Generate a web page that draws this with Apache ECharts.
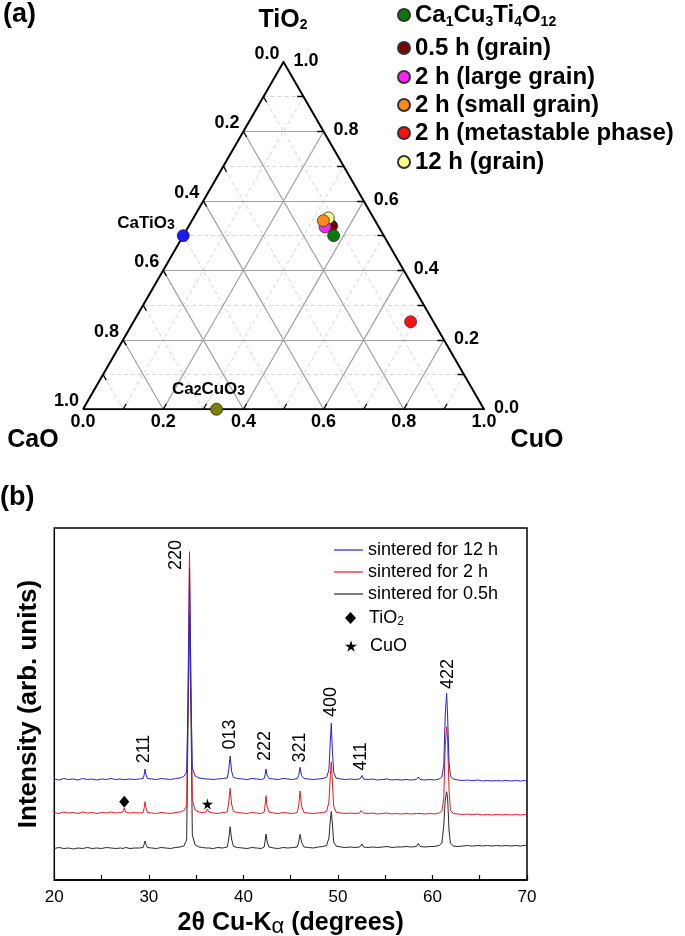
<!DOCTYPE html>
<html><head><meta charset="utf-8">
<script src="https://cdn.jsdelivr.net/npm/echarts@6/dist/echarts.min.js"></script>
<style>html,body{margin:0;padding:0;background:#fff}#c{width:685px;height:936px}</style>
</head><body><div id="c"></div>
<script>
// ===== (a) ternary data: molar fractions =====
const sampleNames = ['Ca1Cu3Ti4O12', '0.5 h (grain)', '2 h (large grain)', '2 h (small grain)', '2 h (metastable phase)', '12 h (grain)'];
const sampleCaO  = [0.125, 0.116, 0.134, 0.129, 0.057, 0.113];
const sampleCuO  = [0.375, 0.356, 0.341, 0.328, 0.691, 0.336];
const sampleTiO2 = [0.500, 0.528, 0.525, 0.543, 0.252, 0.551];
const refNames = ['CaTiO3', 'Ca2CuO3'];
const refCaO  = [0.5, 0.667];
const refCuO  = [0.0, 0.333];
const refTiO2 = [0.5, 0.0];
const ternLabelValues = [0.0, 0.2, 0.4, 0.6, 0.8, 1.0];
const ternMajor = [0.2, 0.4, 0.6, 0.8];
const ternMinor = [0.1, 0.3, 0.5, 0.7, 0.9];

// ===== (b) XRD data =====
const twoTheta = [20.0,20.5,21.0,21.5,22.0,22.5,23.0,23.5,24.0,24.5,
 25.0,25.5,26.0,26.5,27.0,27.25,27.4,27.55,28.0,28.5,
 29.0,29.4,29.5,29.6,29.7,29.85,30.3,30.8,31.3,31.8,
 32.3,32.8,33.3,33.7,34.0,34.15,34.3,34.45,34.6,34.9,
 35.3,35.7,36.05,36.2,36.35,36.8,37.3,37.8,38.3,38.45,
 38.6,38.75,38.95,39.4,39.9,40.4,40.9,41.4,41.9,42.2,
 42.3,42.4,42.5,42.7,43.2,43.7,44.2,44.7,45.2,45.7,
 45.85,46.0,46.15,46.4,46.9,47.4,47.9,48.4,48.8,49.05,
 49.2,49.3,49.4,49.55,49.8,50.3,50.8,51.3,51.8,52.3,
 52.45,52.55,52.7,53.2,53.7,54.2,54.7,55.2,55.7,56.2,
 56.7,57.2,57.7,58.3,58.5,58.7,59.2,59.7,60.2,60.7,
 61.0,61.2,61.35,61.5,61.6,61.75,61.9,62.2,62.7,63.2,
 63.7,64.05,64.2,64.35,64.8,65.3,65.8,66.3,66.8,67.3,
 67.8,68.3,68.8,69.3,69.7,70.0];
const int12h = [101,100,101.5,100.5,101,100,101.5,100.5,101,100,
 101,100.5,101.5,100.5,101,100.5,101,100.5,101,100.5,
 101,101.5,105,111,105,101.5,101,100.5,101.5,101,
 100.5,101.5,102,103.5,108,180,312,190,112,104,
 102,101.5,101,101.5,101,100.5,101,101.5,102,110,
 124,109,102.5,101.5,101,100.5,101.5,101,100.5,101.5,
 105,111,105,101.5,101,100.5,101.5,101,100.5,101.5,
 104.5,112.7,104.5,101.5,101,100.5,101,101.5,102.5,110,
 140,156.7,132,108,102,101,100.5,101,100.5,101,
 103,104.5,101,100.5,101,100,100.5,101,100,100.5,
 100,100.5,100,100.5,103,100.5,100,100.5,100,101,
 103,115,165,186.7,165,118,104,101,100,99.5,
 100,99.5,100.5,99.5,100,99,99.5,99,99.5,99,
 99.5,99,99.5,99,99.5,99];
const int2h = [67.5,66.5,68,67,67.5,66.5,68,67,67.5,66.5,
 67.5,67,68,67,67.5,68,72,68,67,67.5,
 67,67.5,72,78.3,72,67.5,67,66.5,67.5,67,
 66.5,67.5,68,69.5,74,190,328.3,200,80,70,
 68,67.5,68,71,68,67,66.5,67.5,68,78,
 91.7,76,68.5,67.5,67,66.5,67.5,67,66.5,68,
 75,84.3,74,68,67,66.5,67.5,67,66.5,67.5,
 74,89,74,67.5,67,66.5,67,67.5,68.5,78,
 105,118,100,74,68,67,66.5,67,66.5,67,
 69.5,70.5,67,66.5,67,66,66.5,67,66,66.5,
 66,66.5,66,66.5,68.5,66.5,66,66.5,66,67,
 69,82,135,153.3,140,90,70,66.5,66,65.5,
 66,65.5,67.5,65.5,66,65,65.5,65,65.5,65,
 65.5,65,65.5,65,65.5,65];
const int05h = [31.5,32.5,31.5,32,31,32,31.5,32.5,31.5,32,
 31.5,32.5,32,31.5,32,31.5,32,32.5,31.5,32,
 32,32.5,35.5,39,35.5,32.5,32,31.5,32.5,32,
 31.5,32.5,33,34,40,160,265,170,45,35,
 33,32.5,32,32.5,32,31.5,32.5,32,33,41,
 53.3,41,33.5,32.5,32,31.5,32.5,32,31.5,33,
 39,46,39,33,32,31.5,32.5,32,32.5,33,
 38,45.7,38,33,32.5,32,33,33.5,34.5,42,
 60,68.3,58,38,34,33,32.5,33,32.5,33,
 35,36,33,32.5,33,32.5,33,33.5,32.5,33,
 33,33.5,33,33.5,36.5,33.5,33,33.5,33.5,34.5,
 37,55,80,88.3,82,50,37,34,33.5,34,
 34.5,34,35.5,34,34.5,34,34.5,34,34.5,34,
 34.5,34,34.5,34,34.5,34.3];
const hklLabels = ['211','220','013','222','321','400','411','422'];
const hklTheta = [29.47, 32.85, 38.59, 42.25, 45.95, 49.26, 52.49, 61.6];
const hklIntensity = [131, 325, 145.5, 134, 132.5, 178, 123.5, 206];
const tio2Theta = [27.4], tio2Int = [78.3];
const cuoTheta = [36.2], cuoInt = [76];
const xrdSeriesNames = ['sintered for 12 h', 'sintered for 2 h', 'sintered for 0.5h'];

// ===== styles =====
const FONT = 'Arial, "Liberation Sans", Helvetica, sans-serif';
const sampleColors = ['#0b7a0b', '#7a0000', '#ff22ff', '#ff8a1a', '#ff1010', '#ffff8c'];
const sampleZ = [9, 5, 6, 8, 5, 7];
const refColors = ['#1a1aff', '#808000'];
const STAR = 'path://M50,0 L61,35 L98,35 L68,57 L79,91 L50,70 L21,91 L32,57 L2,35 L39,35 Z';

const SQ = Math.sqrt(3) / 2;
function tp(caO, cuO, tiO2) { const s = caO + cuO + tiO2; return [(cuO + tiO2 / 2) / s, (tiO2 * SQ) / s]; }
function gridSegs(vals) {
  const segs = [];
  vals.forEach(v => {
    segs.push({ coords: [tp(1 - v, 0, v), tp(0, 1 - v, v)] });
    segs.push({ coords: [tp(1 - v, v, 0), tp(0, v, 1 - v)] });
    segs.push({ coords: [tp(v, 1 - v, 0), tp(v, 0, 1 - v)] });
  });
  return segs;
}
const TL = 0.016;
const tickSegs = [];
ternMinor.concat(ternMajor).forEach(v => {
  tickSegs.push({ coords: [tp(1 - v, v, 0), tp(1 - v - TL, v, TL)] });
  tickSegs.push({ coords: [tp(0, 1 - v, v), tp(TL, 1 - v - TL, v)] });
  tickSegs.push({ coords: [tp(v, 0, 1 - v), tp(v, TL, 1 - v - TL)] });
});
const subRich = { s: { fontSize: 14, fontWeight: 'bold', color: '#000', verticalAlign: 'bottom', lineHeight: 14, fontFamily: FONT } };
function chemRich(n) {
  const map = { 'Ca1Cu3Ti4O12': 'Ca{s|1}Cu{s|3}Ti{s|4}O{s|12}', 'CaTiO3': 'CaTiO{s|3}', 'Ca2CuO3': 'Ca{s|2}CuO{s|3}' };
  return map[n] || n;
}

const series = [];
series.push({ type: 'lines', coordinateSystem: 'cartesian2d', xAxisIndex: 0, yAxisIndex: 0, silent: true, z: 1,
  lineStyle: { color: '#d4d4d4', width: 1, type: [4, 3], opacity: 1 }, data: gridSegs(ternMinor) });
series.push({ type: 'lines', coordinateSystem: 'cartesian2d', xAxisIndex: 0, yAxisIndex: 0, silent: true, z: 2,
  lineStyle: { color: '#a0a0a0', width: 1.2, opacity: 1 }, data: gridSegs(ternMajor) });
series.push({ type: 'lines', coordinateSystem: 'cartesian2d', xAxisIndex: 0, yAxisIndex: 0, silent: true, z: 3,
  lineStyle: { color: '#000', width: 1.3, opacity: 1 }, data: tickSegs });
series.push({ type: 'lines', coordinateSystem: 'cartesian2d', xAxisIndex: 0, yAxisIndex: 0, silent: true, z: 4, polyline: true,
  lineStyle: { color: '#000', width: 2, opacity: 1 }, data: [{ coords: [tp(1, 0, 0), tp(0, 1, 0), tp(0, 0, 1), tp(1, 0, 0)] }] });
// left edge labels (CaO)
series.push({ type: 'scatter', xAxisIndex: 0, yAxisIndex: 0, symbolSize: 0, silent: true, z: 4, itemStyle: { opacity: 1 },
  data: ternLabelValues.map(v => ({ value: tp(v, 0, 1 - v), name: v.toFixed(1) })),
  label: { show: true, formatter: '{b}', position: 'left', distance: 4, offset: [0, -8], fontSize: 18, fontWeight: 'bold', color: '#000', opacity: 1, fontFamily: FONT } });
// right edge labels (TiO2)
series.push({ type: 'scatter', xAxisIndex: 0, yAxisIndex: 0, symbolSize: 0, silent: true, z: 4, itemStyle: { opacity: 1 },
  data: ternLabelValues.map(v => ({ value: tp(0, 1 - v, v), name: v.toFixed(1) })),
  label: { show: true, formatter: '{b}', position: 'right', distance: 10, offset: [0, -1], fontSize: 18, fontWeight: 'bold', color: '#000', opacity: 1, fontFamily: FONT } });
// reference compounds
const refLabelPos = [{ position: 'left', distance: 2, offset: [0, -12] }, { position: 'top', distance: 5, offset: [-8, 0] }];
refNames.forEach((n, i) => {
  series.push({ type: 'scatter', name: n, xAxisIndex: 0, yAxisIndex: 0, symbol: 'circle', symbolSize: 12, z: 6,
    itemStyle: { color: refColors[i], borderColor: '#222', borderWidth: 0.8, opacity: 1 },
    data: [{ value: tp(refCaO[i], refCuO[i], refTiO2[i]), name: n }],
    label: Object.assign({ show: true, formatter: chemRich(n), fontSize: 17, fontWeight: 'bold', color: '#000', fontFamily: FONT, rich: subRich }, refLabelPos[i]) });
});
sampleNames.forEach((n, i) => {
  series.push({ type: 'scatter', name: n, xAxisIndex: 0, yAxisIndex: 0, symbol: 'circle', symbolSize: 12, z: sampleZ[i],
    itemStyle: { color: sampleColors[i], borderColor: '#333', borderWidth: 0.8, opacity: 1 },
    data: [tp(sampleCaO[i], sampleCuO[i], sampleTiO2[i])] });
});
// XRD traces (drawn black, red, blue so blue is on top)
const xrdInts = [int12h, int2h, int05h];
const xrdColors = ['#2424dc', '#e81c1c', '#2a2a2a'];
[2, 1, 0].forEach(k => {
  series.push({ type: 'line', name: xrdSeriesNames[k], xAxisIndex: 1, yAxisIndex: 1, symbol: 'none', showSymbol: false,
    color: xrdColors[k], lineStyle: { color: xrdColors[k], width: 1 }, z: 3 + (2 - k),
    data: twoTheta.map((x, j) => [x, xrdInts[k][j]]) });
});
series.push({ type: 'scatter', name: 'TiO2', xAxisIndex: 1, yAxisIndex: 1, symbol: 'diamond', symbolSize: [10, 12], z: 8,
  itemStyle: { color: '#000', opacity: 1 }, data: tio2Theta.map((x, j) => [x, tio2Int[j]]) });
series.push({ type: 'scatter', name: 'CuO', xAxisIndex: 1, yAxisIndex: 1, symbol: STAR, symbolSize: 11, z: 8,
  itemStyle: { color: '#000', opacity: 1 }, data: cuoTheta.map((x, j) => [x, cuoInt[j]]) });
series.push({ type: 'scatter', name: 'hkl', xAxisIndex: 1, yAxisIndex: 1, symbolSize: 0, silent: true, z: 9, itemStyle: { opacity: 1 },
  data: hklTheta.map((x, j) => ({ value: [x, hklIntensity[j]], name: hklLabels[j] })),
  label: { show: true, formatter: '{b}', position: 'inside', rotate: 90, fontSize: 18, color: '#000', opacity: 1, fontFamily: FONT } });

// legends
const legends = [];
const legARows = [15, 48, 77, 105, 133, 162];
sampleNames.forEach((n, i) => {
  legends.push({ data: [n], left: 397, top: legARows[i] - 14, padding: 0, icon: 'circle', itemWidth: 12, itemHeight: 12,
    selectedMode: false, formatter: chemRich,
    textStyle: { fontSize: 24, fontWeight: 'bold', color: '#000', lineHeight: 28, fontFamily: FONT, rich: subRich } });
});
const legBRows = [550, 572, 594, 618, 646];
xrdSeriesNames.forEach((n, i) => {
  legends.push({ data: [n], left: 334, top: legBRows[i] - 10, padding: 0, icon: 'rect', itemWidth: 29, itemHeight: 1.2,
    selectedMode: false, textStyle: { fontSize: 18, color: '#000', lineHeight: 20, fontFamily: FONT } });
});
const xrdSub = { s: { fontSize: 12, color: '#000', verticalAlign: 'bottom', lineHeight: 10, fontFamily: FONT } };
legends.push({ data: ['TiO2'], left: 345, top: legBRows[3] - 10, padding: 0, itemWidth: 11, itemHeight: 12, selectedMode: false,
  formatter: () => 'TiO{s|2}', textStyle: { fontSize: 18, color: '#000', lineHeight: 20, fontFamily: FONT, padding: [0, 0, 0, 8], rich: xrdSub } });
legends.push({ data: ['CuO'], left: 345, top: legBRows[4] - 10, padding: 0, itemWidth: 12, itemHeight: 12, selectedMode: false,
  textStyle: { fontSize: 18, color: '#000', lineHeight: 20, fontFamily: FONT, padding: [0, 0, 0, 8] } });

const option = {
  animation: false,
  backgroundColor: '#fff',
  textStyle: { fontFamily: FONT },
  grid: [
    { left: 83, top: 62, width: 401, height: 401 * SQ, containLabel: false, outerBoundsMode: 'none' },
    { left: 54.3, top: 528, width: 472.7, height: 352, containLabel: false, outerBoundsMode: 'none',
      show: true, borderColor: '#000', borderWidth: 1.5, backgroundColor: 'transparent' }
  ],
  xAxis: [
    { type: 'value', gridIndex: 0, min: 0, max: 1, interval: 0.2, axisLine: { show: false }, axisTick: { show: false }, splitLine: { show: false },
      axisLabel: { show: true, fontSize: 18, fontWeight: 'bold', color: '#000', margin: 4, formatter: v => v.toFixed(1), showMinLabel: true, showMaxLabel: true } },
    { type: 'value', gridIndex: 1, min: 20, max: 70, interval: 5,
      axisLine: { show: true, lineStyle: { color: '#000', width: 1.5 } },
      axisTick: { show: true, inside: true, length: 5, lineStyle: { color: '#000', width: 1.2 } },
      splitLine: { show: false },
      axisLabel: { fontSize: 17, color: '#000', margin: 9, formatter: v => (v % 10 === 0 ? String(v) : ''), showMinLabel: true, showMaxLabel: true },
      name: '2θ Cu-K{g|α} (degrees)', nameLocation: 'middle', nameGap: 28,
      nameTextStyle: { fontSize: 25, fontWeight: 'bold', color: '#000', lineHeight: 30,
        rich: { g: { fontSize: 22, fontWeight: 'normal', color: '#000', verticalAlign: 'bottom', lineHeight: 24 } } } }
  ],
  yAxis: [
    { type: 'value', gridIndex: 0, min: 0, max: SQ, show: false },
    { type: 'value', gridIndex: 1, min: 0, max: 352, axisLine: { show: false }, axisTick: { show: false }, axisLabel: { show: false }, splitLine: { show: false },
      name: 'Intensity (arb. units)', nameLocation: 'middle', nameRotate: 90, nameGap: 12,
      nameTextStyle: { fontSize: 26, fontWeight: 'bold', color: '#000' } }
  ],
  legend: legends,
  graphic: [
    { type: 'text', x: 3, y: 15, style: { text: '(a)', font: 'bold 27px ' + FONT, fill: '#000', align: 'left', verticalAlign: 'middle', textAlign: 'left', textVerticalAlign: 'middle' } },
    { type: 'text', x: 0, y: 498, style: { text: '(b)', font: 'bold 27px ' + FONT, fill: '#000', align: 'left', verticalAlign: 'middle', textAlign: 'left', textVerticalAlign: 'middle' } },
    { type: 'text', x: 283, y: 20, style: { text: 'TiO{s|2}', font: 'bold 25px ' + FONT, fill: '#000', align: 'center', verticalAlign: 'middle', textAlign: 'center', textVerticalAlign: 'middle', rich: subRich } },
    { type: 'text', x: 33, y: 440, style: { text: 'CaO', font: 'bold 25px ' + FONT, fill: '#000', align: 'center', verticalAlign: 'middle', textAlign: 'center', textVerticalAlign: 'middle' } },
    { type: 'text', x: 537, y: 440, style: { text: 'CuO', font: 'bold 25px ' + FONT, fill: '#000', align: 'center', verticalAlign: 'middle', textAlign: 'center', textVerticalAlign: 'middle' } }
  ],
  series: series
};
const chart = echarts.init(document.getElementById('c'), null, { renderer: 'canvas' });
chart.setOption(option);
</script></body></html>
